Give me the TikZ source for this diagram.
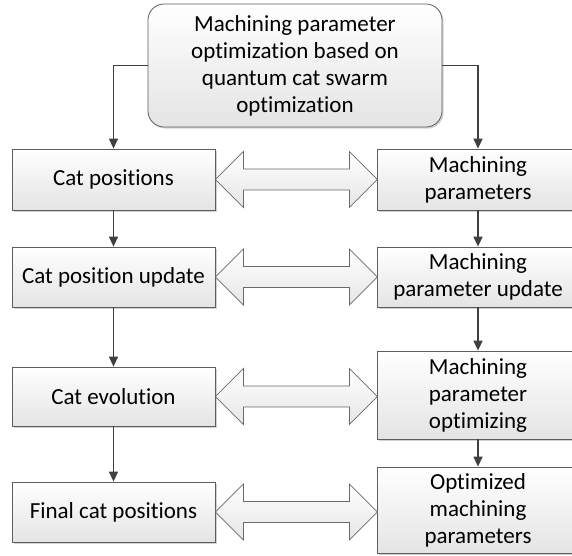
\documentclass[tikz,border=0pt]{standalone}
\usepackage{fontspec}
\setmainfont[Ligatures=NoCommon]{Carlito}
\usetikzlibrary{shadows,arrows.meta,calc}
\definecolor{boxline}{HTML}{5E5E5E}
\definecolor{boxfill}{HTML}{E4E4E4}
\definecolor{connline}{HTML}{404040}
\definecolor{dblline}{HTML}{6A6A6A}
\begin{document}
\begin{tikzpicture}[x=1pt,y=1pt,
  box/.style={draw=boxline, line width=0.8pt, top color=white, bottom color=boxfill,
    inner sep=2pt, align=center, font=\fontsize{23}{27}\selectfont,
    drop shadow={shadow xshift=1.6pt, shadow yshift=-1.6pt, fill=black!35, opacity=0.5}},
  leftbox/.style={box, minimum width=203pt},
  rightbox/.style={box, minimum width=202pt},
  conn/.style={draw=connline, line width=1.3pt, -{Triangle[length=10pt,width=9pt]}},
  dbl/.style={draw=dblline, line width=0.8pt, top color=white, bottom color=black!10, line join=miter}
]
\clip (0,0) rectangle (572,-555);

% title box
\node[box, rounded corners=16pt, minimum width=294pt, minimum height=123pt]
  (top) at (295,-65.5) {Machining parameter\\optimization based on\\quantum cat swarm\\optimization};

% cat column
\node[leftbox, minimum height=61pt] (l1) at (113.5,-179.5) {Cat positions};
\node[leftbox, minimum height=60pt] (l2) at (113.5,-277) {Cat position update};
\node[leftbox, minimum height=59pt] (l3) at (113.5,-396.5) {Cat evolution};
\node[leftbox, minimum height=60pt] (l4) at (113.5,-512) {Final cat positions};

% machining column
\node[rightbox, minimum height=61pt] (r1) at (478,-179.5) {Machining\\parameters};
\node[rightbox, minimum height=60pt] (r2) at (478,-277) {Machining\\parameter update};
\node[rightbox, minimum height=88pt] (r3) at (478,-395) {Machining\\parameter\\optimizing};
\node[rightbox, minimum height=86pt] (r4) at (478,-510) {Optimized\\machining\\parameters};

% flow arrows
\draw[conn] (top.west) -| (l1.north);
\draw[conn] (top.east) -| (r1.north);
\draw[conn] (l1.south) -- (l2.north);
\draw[conn] (l2.south) -- (l3.north);
\draw[conn] (l3.south) -- (l4.north);
\draw[conn] (r1.south) -- (r2.north);
\draw[conn] (r2.south) -- (r3.north);
\draw[conn] (r3.south) -- (r4.north);

% block double arrows between the columns
\foreach \a in {1,2,3,4}{
  \path[dbl] (l\a.east) -- ++(28,28) -- ++(0,-17.5) -- ++(106,0) -- ++(0,17.5)
    -- ++(28,-28) -- ++(-28,-28) -- ++(0,17.5) -- ++(-106,0) -- ++(0,-17.5) -- cycle;
}
\end{tikzpicture}
\end{document}
